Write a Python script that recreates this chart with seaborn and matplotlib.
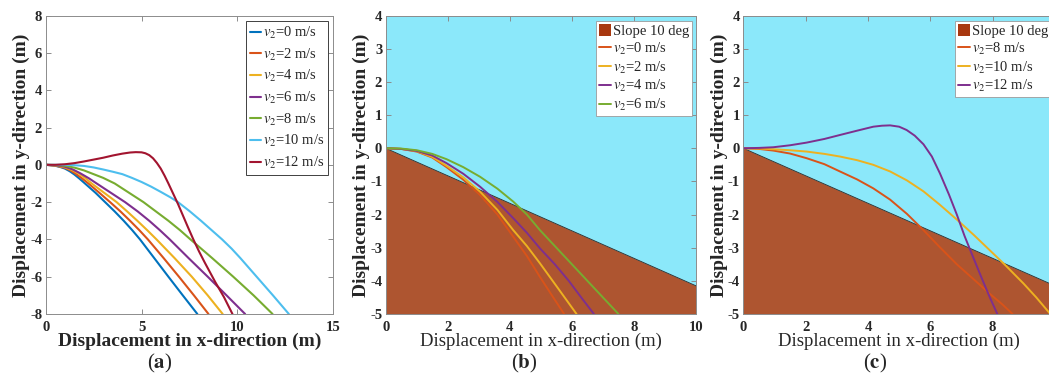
import numpy as np
import pandas as pd
import matplotlib
matplotlib.use("Agg")
import matplotlib.pyplot as plt
import seaborn as sns
from matplotlib.patches import Patch

# ---------------- data ----------------
# Panel (a): trajectories for different v2
a_labels = ["0", "2", "4", "6", "8", "10", "12"]
a_x_v0 = [0, 0.5, 0.8, 1, 1.25, 1.5, 1.75, 2.05, 2.6, 3.1, 3.6, 4.07, 4.51, 4.92, 5.66, 6.4, 7.15, 7.91]
a_y_v0 = [0, -0.05, -0.13, -0.2, -0.34, -0.52, -0.73, -1.0, -1.5, -2.0, -2.5, -3.0, -3.5, -4.0, -5.0, -6.0, -7.0, -8.0]
a_x_v2 = [0, 0.5, 1, 1.3, 1.6, 1.9, 2.23, 2.8, 3.36, 3.9, 4.4, 4.88, 5.33, 6.15, 6.95, 7.73, 8.49]
a_y_v2 = [0, -0.04, -0.16, -0.3, -0.5, -0.73, -1.0, -1.5, -2.0, -2.5, -3.0, -3.5, -4.0, -5.0, -6.0, -7.0, -8.0]
a_x_v4 = [0, 0.5, 1, 1.35, 1.7, 2.05, 2.4, 3.05, 3.7, 4.25, 4.78, 5.29, 5.78, 6.72, 7.62, 8.45, 9.23]
a_y_v4 = [0, -0.03, -0.13, -0.27, -0.45, -0.7, -1.0, -1.5, -2.0, -2.5, -3.0, -3.5, -4.0, -5.0, -6.0, -7.0, -8.0]
a_x_v6 = [0, 0.5, 1, 1.4, 1.8, 2.25, 2.66, 3.4, 4.14, 4.8, 5.4, 5.95, 6.47, 7.45, 8.45, 9.43, 10.4]
a_y_v6 = [0, -0.02, -0.1, -0.24, -0.45, -0.72, -1.0, -1.5, -2.0, -2.5, -3.0, -3.5, -4.0, -5.0, -6.0, -7.0, -8.0]
a_x_v8 = [0, 0.5, 1, 1.5, 2, 2.5, 3, 3.6, 4.35, 5.1, 5.75, 6.4, 7.0, 7.55, 8.68, 9.78, 10.84, 11.83]
a_y_v8 = [0, -0.01, -0.05, -0.15, -0.3, -0.5, -0.7, -1.0, -1.5, -2.0, -2.5, -3.0, -3.5, -4.0, -5.0, -6.0, -7.0, -8.0]
a_x_v10 = [0, 0.5, 1, 1.5, 2, 2.5, 3, 3.5, 4, 4.5, 5, 5.5, 6, 6.5, 6.9, 7.5, 8.1, 8.65, 9.2, 9.7, 10.15, 11.0, 11.85, 12.68]
a_y_v10 = [0, 0, 0, -0.02, -0.06, -0.14, -0.25, -0.37, -0.5, -0.7, -0.92, -1.17, -1.45, -1.74, -2.0, -2.48, -3.0, -3.5, -4.0, -4.5, -5.0, -6.0, -7.0, -8.0]
a_x_v12 = [0, 0.5, 1, 1.5, 2, 2.5, 3, 3.5, 4, 4.4, 4.7, 5.0, 5.2, 5.4, 5.6, 5.8, 6.0, 6.2, 6.4, 6.65, 6.9, 7.15, 7.4, 7.7, 8.0, 8.3, 8.85, 9.3, 9.74]
a_y_v12 = [0, 0, 0.03, 0.09, 0.18, 0.28, 0.38, 0.5, 0.6, 0.66, 0.68, 0.67, 0.62, 0.52, 0.35, 0.1, -0.2, -0.58, -1.0, -1.55, -2.1, -2.7, -3.3, -4.0, -4.65, -5.25, -6.3, -7.1, -8.0]

# Slope (10 deg) boundary for panels (b) and (c)
slope_x = [0, 10]
slope_y = [0, -4.15]

# Panel (b)
b_labels = ["0", "2", "4", "6"]
b_x_v0 = [0, 0.5, 1, 1.5, 1.96, 2.5, 3.04, 3.6, 4.11, 4.55, 4.97, 5.35, 5.75]
b_y_v0 = [0, -0.02, -0.1, -0.28, -0.57, -0.95, -1.41, -2.0, -2.67, -3.25, -3.88, -4.43, -5.0]
b_x_v2 = [0, 0.5, 1, 1.5, 1.96, 2.5, 3.04, 3.6, 4.11, 4.55, 4.97, 5.55, 6.15]
b_y_v2 = [0, -0.02, -0.09, -0.26, -0.53, -0.88, -1.31, -1.86, -2.47, -2.95, -3.47, -4.22, -5.0]
b_x_v4 = [0, 0.5, 1, 1.5, 1.96, 2.5, 3.04, 3.6, 4.11, 4.55, 4.97, 5.45, 5.9, 6.3, 6.71]
b_y_v4 = [0, -0.02, -0.08, -0.22, -0.45, -0.77, -1.16, -1.62, -2.11, -2.55, -3.02, -3.5, -4.0, -4.5, -5.0]
b_x_v6 = [0, 0.5, 1, 1.5, 1.96, 2.5, 3.04, 3.6, 4.11, 4.55, 4.97, 5.65, 6.3, 6.9, 7.5]
b_y_v6 = [0, -0.01, -0.06, -0.17, -0.33, -0.57, -0.86, -1.22, -1.61, -2.0, -2.47, -3.15, -3.8, -4.4, -5.0]

# Panel (c)
c_labels = ["8", "10", "12"]
c_x_v8 = [0, 0.5, 0.96, 1.5, 2.03, 2.6, 3.1, 3.65, 4.17, 4.71, 5.25, 5.78, 6.3, 6.85, 7.4, 7.92, 8.3, 8.64]
c_y_v8 = [0, -0.02, -0.07, -0.16, -0.3, -0.48, -0.7, -0.94, -1.21, -1.55, -1.98, -2.47, -2.98, -3.5, -3.96, -4.4, -4.7, -5.0]
c_x_v10 = [0, 0.5, 0.96, 1.5, 2.03, 2.6, 3.1, 3.65, 4.17, 4.71, 5.25, 5.78, 6.3, 6.85, 7.4, 7.9, 8.4, 8.99, 9.4, 9.85]
c_y_v10 = [0, -0.01, -0.03, -0.06, -0.1, -0.17, -0.25, -0.36, -0.5, -0.7, -0.97, -1.3, -1.7, -2.15, -2.62, -3.07, -3.52, -4.08, -4.5, -5.0]
c_x_v12 = [0, 0.5, 0.96, 1.5, 2.03, 2.6, 3.1, 3.65, 4.17, 4.45, 4.71, 5.0, 5.24, 5.5, 5.78, 6.05, 6.31, 6.6, 6.85, 7.1, 7.38, 7.65, 7.92, 8.15]
c_y_v12 = [0, 0.01, 0.03, 0.09, 0.17, 0.28, 0.4, 0.53, 0.65, 0.68, 0.69, 0.65, 0.55, 0.38, 0.12, -0.25, -0.76, -1.4, -2.0, -2.65, -3.3, -3.92, -4.52, -5.0]

# ---------------- styling ----------------
sns.set_style("ticks")
plt.rcParams['font.family'] = ['Liberation Serif', 'DejaVu Serif']
plt.rcParams['mathtext.fontset'] = 'stix'
plt.rcParams['axes.unicode_minus'] = False

M_BLUE, M_ORANGE, M_YELLOW = "#0072BD", "#D95319", "#EDB120"
M_PURPLE, M_GREEN, M_CYAN, M_RED = "#7E2F8E", "#77AC30", "#4DBEEE", "#A2142F"
SKY = "#8BE8FA"
GROUND = "#AE5530"
GROUND_LEG = "#A8380F"
SPINE = "#8c8c8c"
TXT = "#262626"

fig = plt.figure(figsize=(10.49, 3.88), dpi=100)
axA = fig.add_axes([0.0435, 0.1907, 0.2743, 0.769])
axB = fig.add_axes([0.3677, 0.1907, 0.2958, 0.769])
axC = fig.add_axes([0.7086, 0.1907, 0.2971, 0.769])


def style_axes(ax, xticks, yticks, xlim, ylim, xbold):
    ax.set_xlim(*xlim)
    ax.set_ylim(*ylim)
    ax.set_xticks(xticks)
    ax.set_yticks(yticks)
    ax.tick_params(direction='in', length=3.5, width=0.7, top=True, right=True,
                   color=SPINE, labelsize=10.5, labelcolor=TXT, pad=2.5)
    ax.tick_params(axis='x', pad=5)
    for lab in ax.get_xticklabels() + ax.get_yticklabels():
        lab.set_fontweight('bold')
    for s in ax.spines.values():
        s.set_visible(True)
        s.set_color(SPINE)
        s.set_linewidth(0.7)
    ax.set_xlabel("Displacement in x-direction (m)",
                  fontsize=14 if xbold else 13.5,
                  fontweight='bold' if xbold else 'normal', color=TXT, labelpad=-1)
    ax.set_ylabel("Displacement in y-direction (m)", fontsize=14,
                  fontweight='bold', color=TXT, labelpad=0)


def lab(v):
    return r"$v_2$=" + v + " m/s"


# ---- Panel (a)
a_series = [(a_x_v0, a_y_v0, M_BLUE), (a_x_v2, a_y_v2, M_ORANGE),
            (a_x_v4, a_y_v4, M_YELLOW), (a_x_v6, a_y_v6, M_PURPLE),
            (a_x_v8, a_y_v8, M_GREEN), (a_x_v10, a_y_v10, M_CYAN),
            (a_x_v12, a_y_v12, M_RED)]
for (xs, ys, col), v in zip(a_series, a_labels):
    sns.lineplot(x=xs, y=ys, ax=axA, color=col, lw=1.5, estimator=None,
                 sort=False, label=lab(v))
style_axes(axA, [0, 5, 10, 15], list(range(-8, 9, 2)), (0, 15), (-8, 8), True)
h, l = axA.get_legend_handles_labels()
legA = axA.legend(h, l, loc='upper right', bbox_to_anchor=(0.983, 0.981),
                  fontsize=10.5, frameon=True, fancybox=False, framealpha=1,
                  edgecolor='#404040', handlelength=0.8, handletextpad=0.15,
                  labelspacing=0.38, borderpad=0.25, borderaxespad=0)
legA.get_frame().set_linewidth(0.7)


def slope_panel(ax, series, labels):
    ax.set_facecolor(SKY)
    ax.fill_between(slope_x, slope_y, -5, color=GROUND, lw=0)
    sns.lineplot(x=slope_x, y=slope_y, ax=ax, color="#2a2a2a", lw=0.6,
                 estimator=None, sort=False)
    handles = [Patch(facecolor=GROUND_LEG, edgecolor='none')]
    texts = ["Slope 10 deg"]
    for (xs, ys, col), v in zip(series, labels):
        sns.lineplot(x=xs, y=ys, ax=ax, color=col, lw=1.4, estimator=None,
                     sort=False)
        handles.append(ax.lines[-1])
        texts.append(lab(v))
    style_axes(ax, list(range(0, 11, 2)), list(range(-5, 5)), (0, 10), (-5, 4), False)
    leg = ax.legend(handles, texts, loc='upper right', bbox_to_anchor=(0.988, 0.981),
                    fontsize=10.5, frameon=True, fancybox=False, framealpha=1,
                    edgecolor='#9a9a9a', handlelength=0.8, handleheight=0.9,
                    handletextpad=0.15, labelspacing=0.18, borderpad=0.2,
                    borderaxespad=0)
    leg.get_frame().set_linewidth(0.6)


slope_panel(axB, [(b_x_v0, b_y_v0, M_ORANGE), (b_x_v2, b_y_v2, M_YELLOW),
                  (b_x_v4, b_y_v4, M_PURPLE), (b_x_v6, b_y_v6, M_GREEN)], b_labels)
slope_panel(axC, [(c_x_v8, c_y_v8, M_ORANGE), (c_x_v10, c_y_v10, M_YELLOW),
                  (c_x_v12, c_y_v12, M_PURPLE)], c_labels)

# captions
for xc, letter in [(0.152, "a"), (0.5, "b"), (0.834, "c")]:
    fig.text(xc, 0.062, "(" + r"$\mathbf{" + letter + "}$" + ")", ha='center',
             va='center', fontsize=15, color=TXT)

fig.savefig("out.png", dpi=100)
